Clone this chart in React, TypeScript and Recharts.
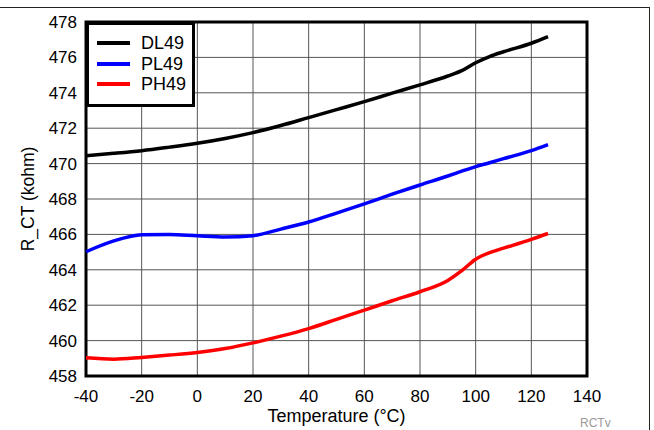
import React from "react";
import { LineChart, Line, XAxis, YAxis, CartesianGrid, ReferenceArea, Legend } from "recharts";

const temps = [-40, -30, -20, -10, 0, 10, 20, 30, 40, 50, 60, 70, 80, 90, 95, 100, 105, 110, 120, 126];
const dl49 = [470.45, 470.58, 470.73, 470.93, 471.15, 471.42, 471.75, 472.15, 472.6, 473.05, 473.5, 473.98, 474.45, 474.95, 475.25, 475.7, 476.05, 476.32, 476.8, 477.17];
const pl49 = [465.02, 465.63, 465.98, 466.0, 465.92, 465.85, 465.93, 466.3, 466.7, 467.2, 467.72, 468.27, 468.79, 469.3, 469.57, 469.83, 470.05, 470.28, 470.73, 471.07];
const ph49 = [459.03, 458.95, 459.05, 459.18, 459.33, 459.55, 459.87, 460.25, 460.68, 461.2, 461.72, 462.25, 462.76, 463.4, 463.95, 464.6, 464.97, 465.22, 465.72, 466.05];

const seriesNames = ["DL49", "PL49", "PH49"];
const seriesColors = ["#000000", "#0000ff", "#ff0000"];
const xTicks = [-40, -20, 0, 20, 40, 60, 80, 100, 120, 140];
const yTicks = [458, 460, 462, 464, 466, 468, 470, 472, 474, 476, 478];

const data = temps.map((t, i) => ({ t, DL49: dl49[i], PL49: pl49[i], PH49: ph49[i] }));

const FONT = "'Liberation Sans', Arial, Helvetica, sans-serif";

const LegendBox = () => (
  <div
    style={{
      boxSizing: "border-box",
      width: 109,
      height: 85,
      border: "3px solid #000",
      background: "#fff",
      paddingTop: 8,
      fontFamily: FONT,
      fontSize: 18,
      color: "#000",
    }}
  >
    {seriesNames.map((n, i) => (
      <div key={n} style={{ display: "flex", alignItems: "center", height: 20.5 }}>
        <div style={{ marginLeft: 8, width: 33, height: 4, background: seriesColors[i] }} />
        <span style={{ marginLeft: 11, lineHeight: "20px" }}>{n}</span>
      </div>
    ))}
  </div>
);

export default function App() {
  return (
    <div style={{ position: "absolute", left: 0, top: 0, width: 654, height: 430, background: "#fff" }}>
      <div
        style={{
          position: "absolute",
          left: 0,
          top: 7,
          width: 650,
          height: 423,
          borderTop: "1px solid #222",
          borderRight: "1px solid #222",
          boxSizing: "border-box",
        }}
      />
      <LineChart
        width={654}
        height={430}
        data={data}
        margin={{ top: 22, right: 67, bottom: 14, left: 0 }}
        style={{ position: "absolute", left: 0, top: 0 }}
      >
        <CartesianGrid stroke="#555" strokeWidth={1} />
        <XAxis
          dataKey="t"
          type="number"
          domain={[-40, 140]}
          ticks={xTicks}
          height={40}
          tickSize={0}
          tickMargin={14}
          axisLine={false}
          tickLine={false}
          tick={{ fill: "#000", fontSize: 17, fontFamily: FONT }}
          label={{ value: "Temperature (°C)", position: "center", dy: 20, fill: "#000", fontSize: 18, fontFamily: FONT }}
        />
        <YAxis
          type="number"
          domain={[458, 478]}
          ticks={yTicks}
          width={86}
          tickSize={0}
          tickMargin={9}
          axisLine={false}
          tickLine={false}
          interval={0}
          tick={{ fill: "#000", fontSize: 17, fontFamily: FONT }}
          label={{ value: "R_CT (kohm)", angle: -90, position: "center", dx: -15, fill: "#000", fontSize: 17.5, fontFamily: FONT }}
        />
        <ReferenceArea x1={-40} x2={140} y1={458} y2={478} fill="none" stroke="#000" strokeWidth={3} />
        {seriesNames.map((n, i) => (
          <Line
            key={n}
            dataKey={n}
            type="monotone"
            stroke={seriesColors[i]}
            strokeWidth={3.5}
            dot={false}
            isAnimationActive={false}
          />
        ))}
        <Legend
          layout="horizontal"
          verticalAlign="middle"
          align="center"
          content={() => <LegendBox />}
          wrapperStyle={{ left: 86, top: 22, width: 109, height: 85, margin: 0 }}
        />
      </LineChart>
      <div
        style={{
          position: "absolute",
          left: 580,
          top: 416,
          fontFamily: FONT,
          fontSize: 12,
          color: "#999",
        }}
      >
        RCTv
      </div>
    </div>
  );
}
